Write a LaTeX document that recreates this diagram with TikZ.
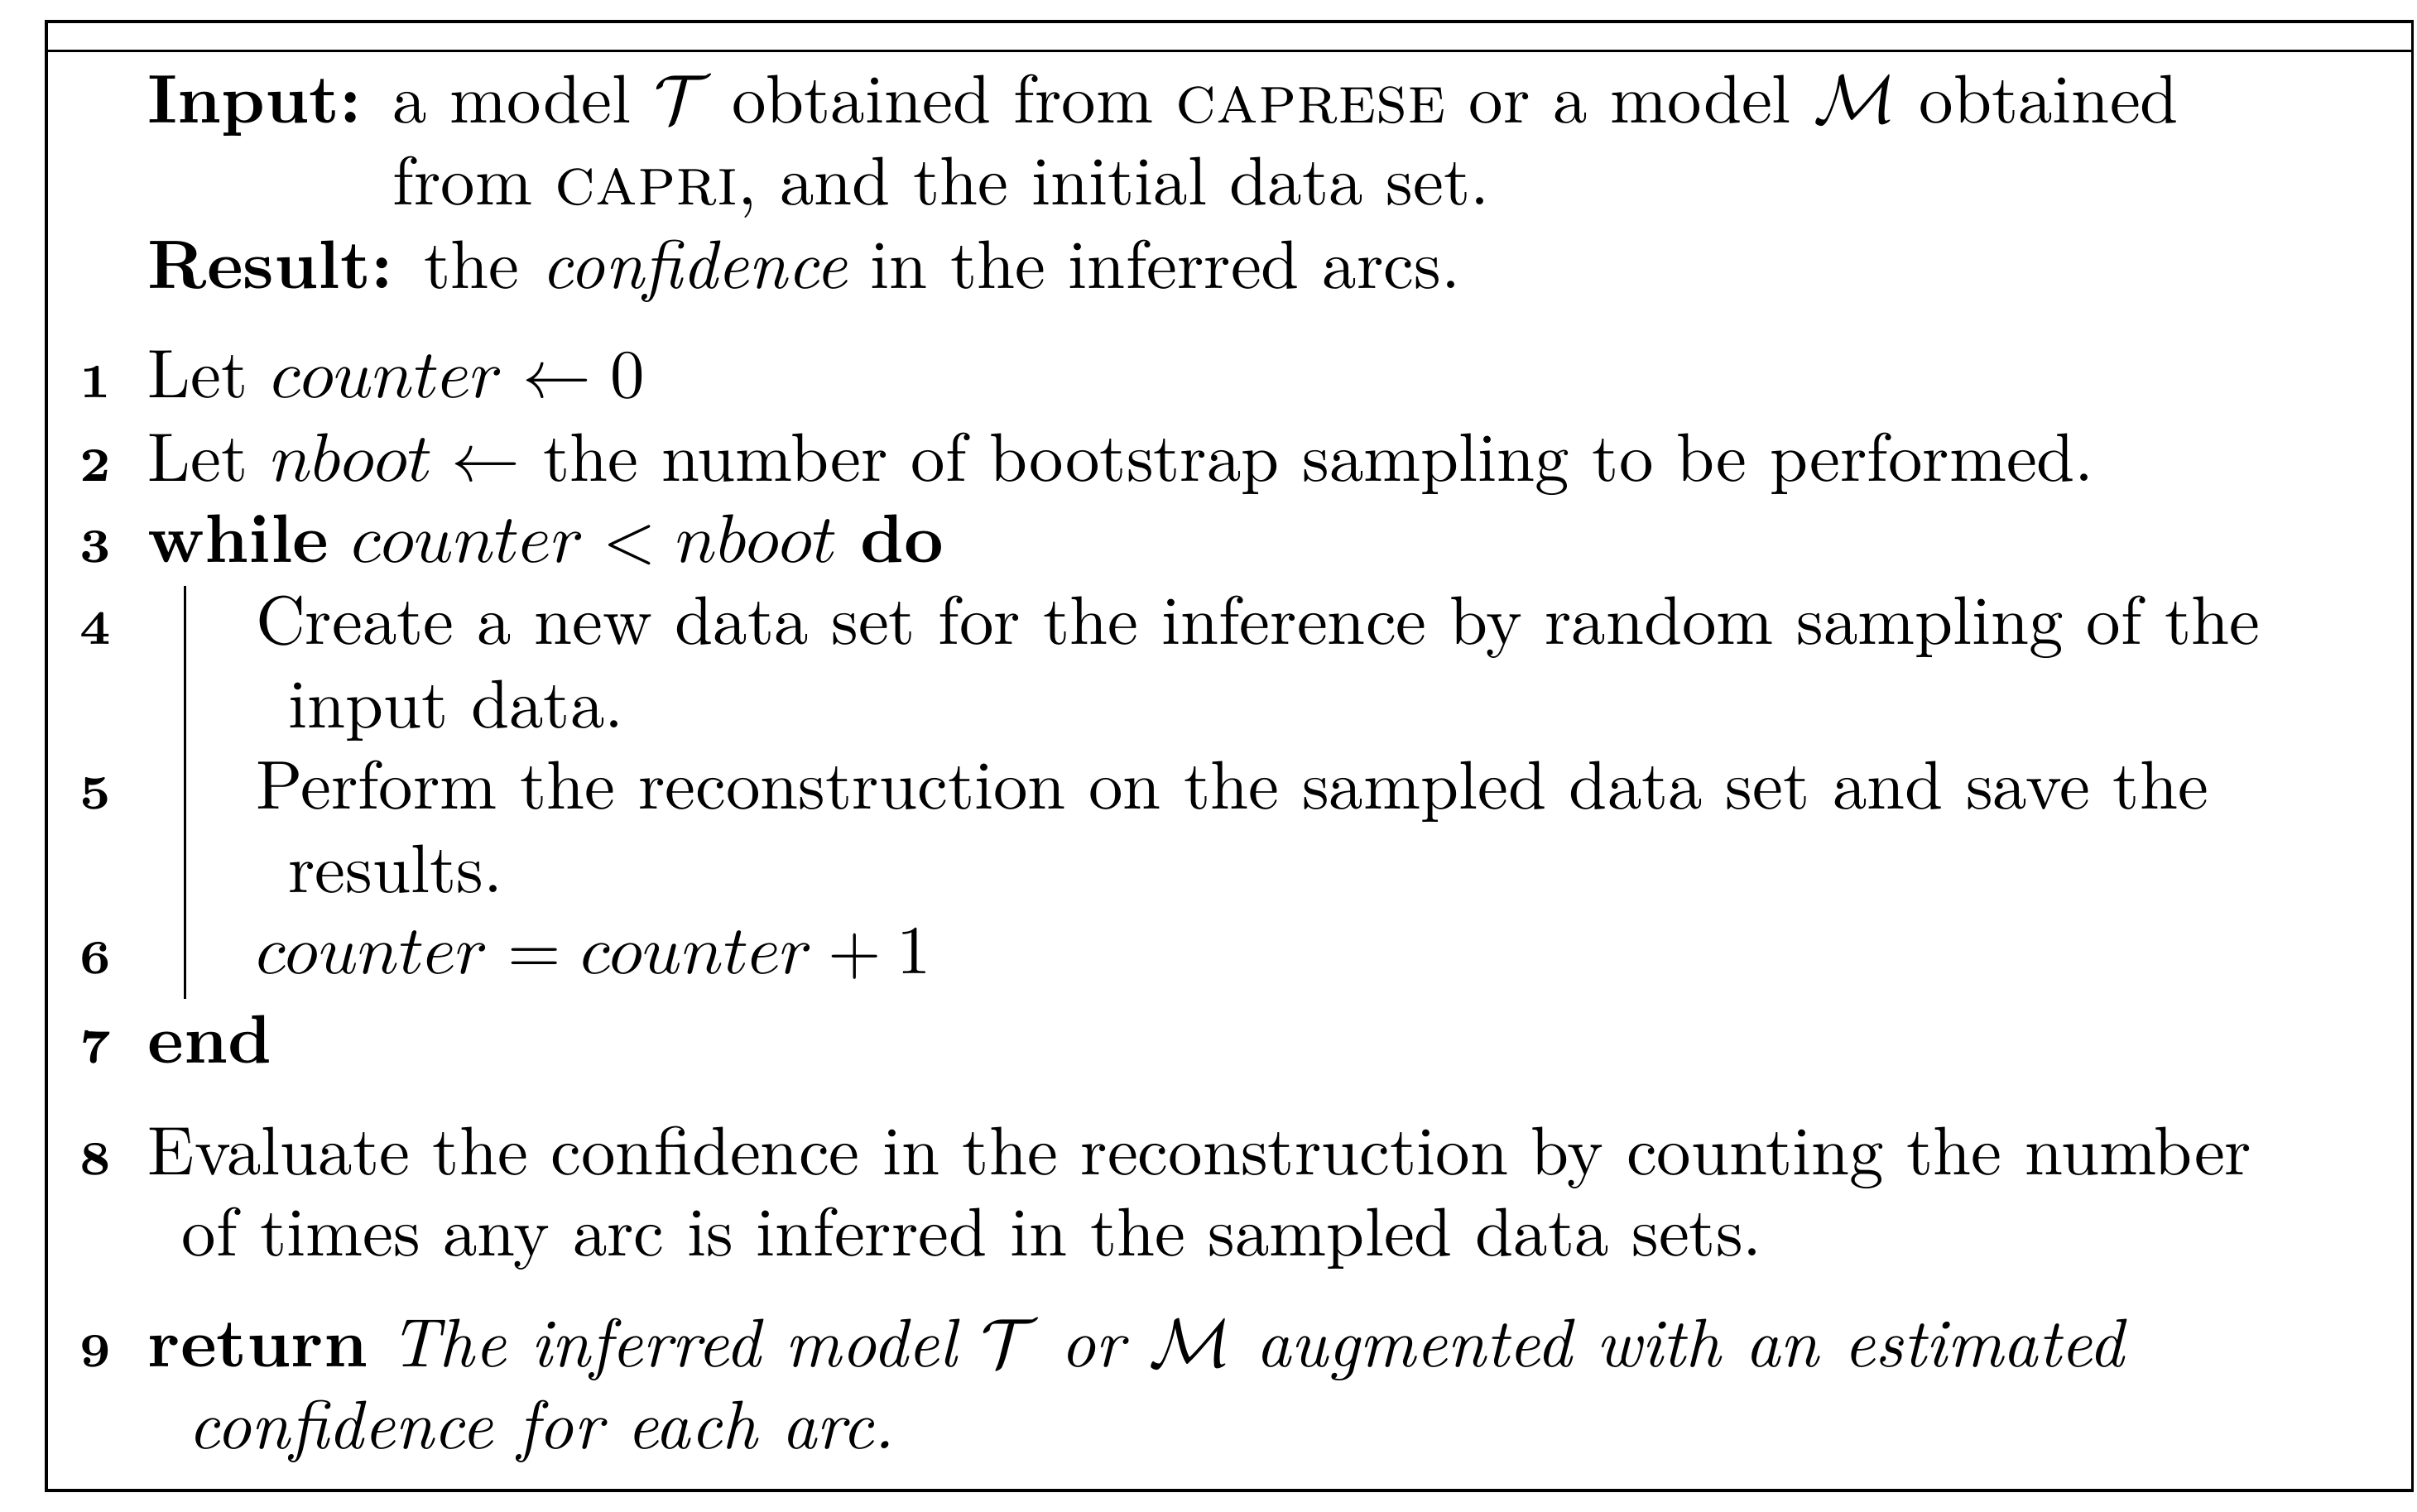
\documentclass[tikz,border=0pt]{standalone}
\usepackage{amssymb}
\usepackage{amsmath}
\usepackage{tikz}
\usetikzlibrary{positioning}
\tikzstyle{codeline} = [anchor=base west, inner sep=0pt, outer sep=0pt]
\tikzstyle{lineno} = [anchor=base east, inner sep=0pt, outer sep=0pt, font=\scriptsize\bfseries]
\tikzstyle{frame} = [line width=0.4pt]

\begin{document}
\begin{tikzpicture}[x=0.2247pt, y=-0.2247pt]
    \useasboundingbox (0,0) rectangle (1568,980.6);
    % box and top rule
    \draw [frame] (30,14) rectangle (1565,967);
    \draw [frame] (30,33) -- (1565,33);
    % header
    \node (inlab) [codeline] at (96,80) {\textbf{Input:}};
    \node (in1) [codeline] at (255,80) {a model $\mathcal{T}$ obtained from \textsc{caprese} or a model $\mathcal{M}$ obtained};
    \node (in2) [codeline] at (255,133) {from \textsc{capri}, and the initial data set.};
    \node (reslab) [codeline] at (96,187) {\textbf{Result:}};
    \node (res) [codeline] at (275,187) {the \emph{confidence} in the inferred arcs.};
    % numbered lines
    \node (n1) [lineno] at (72,258) {1};
    \node (l1) [codeline] at (96,258) {Let $counter \leftarrow 0$};
    \node (n2) [lineno] at (72,312) {2};
    \node (l2) [codeline] at (96,312) {Let $nboot \leftarrow$ the number of bootstrap sampling to be performed.};
    \node (n3) [lineno] at (72,365) {3};
    \node (l3) [codeline] at (96,365) {\textbf{while} $counter < nboot$ \textbf{do}};
    \node (n4) [lineno] at (72,418) {4};
    \node (l4) [codeline] at (166,418) {Create a new data set for the inference by random sampling of the};
    \node (l4b) [codeline] at (187,472) {input data.};
    \node (n5) [lineno] at (72,525) {5};
    \node (l5) [codeline] at (166,525) {Perform the reconstruction on the sampled data set and save the};
    \node (l5b) [codeline] at (187,579) {results.};
    \node (n6) [lineno] at (72,632) {6};
    \node (l6) [codeline] at (166,632) {$counter = counter + 1$};
    \node (n7) [lineno] at (72,690) {7};
    \node (l7) [codeline] at (96,690) {\textbf{end}};
    \node (n8) [lineno] at (72,762) {8};
    \node (l8) [codeline] at (96,762) {Evaluate the confidence in the reconstruction by counting the number};
    \node (l8b) [codeline] at (118,815) {of times any arc is inferred in the sampled data sets.};
    \node (n9) [lineno] at (72,887) {9};
    \node (l9) [codeline] at (96,887) {\textbf{return} \emph{The inferred model $\mathcal{T}$ or $\mathcal{M}$ augmented with an estimated}};
    \node (l9b) [codeline] at (122,940) {\emph{confidence for each arc.}};
    % block bar of the loop
    \coordinate (bartop) at (120,380);
    \coordinate (barbot) at (120,648);
    \draw [frame] (bartop) -- (barbot);
\end{tikzpicture}
\end{document}
